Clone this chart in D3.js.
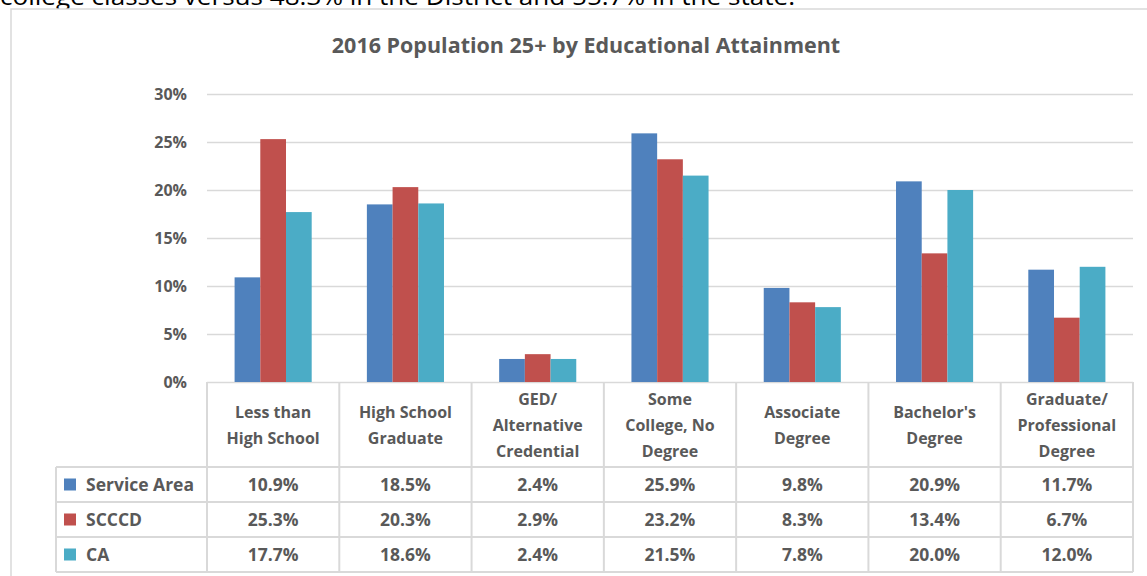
<!DOCTYPE html>
<html>
<head>
<meta charset="utf-8">
<script src="https://cdn.jsdelivr.net/npm/d3@7"></script>
<style>
  body { margin: 0; background: #fff; }
  svg { display: block; font-family: "Open Sans", Lato, sans-serif; }
</style>
</head>
<body>
<div id="chart"></div>
<script>
var categories = [
    ["Less than", "High School"],
    ["High School", "Graduate"],
    ["GED/", "Alternative", "Credential"],
    ["Some", "College, No", "Degree"],
    ["Associate", "Degree"],
    ["Bachelor's", "Degree"],
    ["Graduate/", "Professional", "Degree"]
];
var seriesNames = ["Service Area", "SCCCD", "CA"];
var serviceArea = [10.9, 18.5, 2.4, 25.9, 9.8, 20.9, 11.7];
var scccd = [25.3, 20.3, 2.9, 23.2, 8.3, 13.4, 6.7];
var ca = [17.7, 18.6, 2.4, 21.5, 7.8, 20.0, 12.0];
var colors = ["#4f81bd", "#c0504d", "#4bacc6"];
var yTicks = [0, 5, 10, 15, 20, 25, 30];

(function() {
var series = [serviceArea, scccd, ca];
var W = 1147, H = 576;
var grey = "#595959", line = "#d9d9d9";
var fs = 16, rowFs = 17.5;

var svg = d3.select("#chart").append("svg")
    .attr("width", W)
    .attr("height", H);

// clipped sentence from the surrounding document
svg.append("text")
    .attr("x", 0)
    .attr("y", 5)
    .attr("font-size", 24)
    .attr("textLength", 795)
    .attr("lengthAdjust", "spacingAndGlyphs")
    .attr("fill", "#000")
    .text("college classes versus 48.3% in the District and 55.7% in the state.");

// chart frame
svg.append("rect")
    .attr("x", 11).attr("y", 9)
    .attr("width", 1160).attr("height", 600)
    .attr("fill", "#fff")
    .attr("stroke", line).attr("stroke-width", 1.5);

svg.append("text")
    .attr("x", 586).attr("y", 53)
    .attr("text-anchor", "middle")
    .attr("font-size", 21.5).attr("font-weight", "bold")
    .attr("fill", grey)
    .text("2016 Population 25+ by Educational Attainment");

var plotL = 207, plotR = 1133, plotT = 94, base = 382;

var x = d3.scaleBand()
    .domain(d3.range(categories.length))
    .range([plotL, plotR]);
var y = d3.scaleLinear().domain([0, 30]).range([base, plotT]);
var barW = 25.7;
var xs = d3.scaleBand().domain(d3.range(series.length))
    .range([-barW * 1.5, barW * 1.5]);

// gridlines + y labels via axis
var yAxis = svg.append("g")
    .attr("transform", "translate(" + plotL + ",0)")
    .call(d3.axisLeft(y).tickValues(yTicks)
        .tickSize(-(plotR - plotL))
        .tickFormat(d => d + "%"));
yAxis.select(".domain").remove();
yAxis.selectAll(".tick line").attr("stroke", line).attr("stroke-width", 1.5);
yAxis.selectAll(".tick text")
    .attr("x", -20)
    .attr("font-size", fs).attr("font-weight", "bold")
    .attr("font-family", "'Open Sans', sans-serif")
    .attr("fill", grey);

// bars
series.forEach(function(vals, si) {
    svg.append("g").selectAll("rect")
        .data(vals)
        .enter()
        .append("rect")
        .attr("x", (d, i) => x(i) + x.bandwidth() / 2 + xs(si))
        .attr("y", d => y(d))
        .attr("width", xs.bandwidth())
        .attr("height", d => base - y(d))
        .attr("fill", colors[si]);
});

// data table
var headH = 85, rowH = 35, legendLeft = 56;
var tableLines = svg.append("g")
    .attr("stroke", line).attr("stroke-width", 2).attr("fill", "none");

d3.range(categories.length + 1).forEach(function(i) {
    var xx = i < categories.length ? x(i) : plotR;
    tableLines.append("line")
        .attr("x1", xx).attr("x2", xx)
        .attr("y1", base).attr("y2", base + headH + rowH * 3);
});
tableLines.append("line")
    .attr("x1", legendLeft).attr("x2", legendLeft)
    .attr("y1", base + headH).attr("y2", base + headH + rowH * 3);
d3.range(4).forEach(function(r) {
    var yy = base + headH + r * rowH;
    tableLines.append("line")
        .attr("x1", legendLeft).attr("x2", plotR)
        .attr("y1", yy).attr("y2", yy);
});

// header labels
var lineH = 26;
categories.forEach(function(lines, i) {
    var t = svg.append("text")
        .attr("text-anchor", "middle")
        .attr("font-size", fs).attr("font-weight", "bold")
        .attr("fill", grey);
    var y0 = base + headH / 2 - (lines.length - 1) * lineH / 2 + 6;
    lines.forEach(function(l, k) {
        t.append("tspan")
            .attr("x", x(i) + x.bandwidth() / 2)
            .attr("y", y0 + k * lineH)
            .text(l);
    });
});

// rows
series.forEach(function(vals, si) {
    var cy = base + headH + si * rowH + rowH / 2;
    svg.append("rect")
        .attr("x", 64).attr("y", cy - 6)
        .attr("width", 12).attr("height", 12)
        .attr("fill", colors[si]);
    svg.append("text")
        .attr("x", 86).attr("y", cy + 6)
        .attr("font-size", rowFs).attr("font-weight", "bold")
        .attr("fill", grey)
        .text(seriesNames[si]);
    svg.append("g").selectAll("text")
        .data(vals)
        .enter()
        .append("text")
        .attr("x", (d, i) => x(i) + x.bandwidth() / 2)
        .attr("y", cy + 6)
        .attr("text-anchor", "middle")
        .attr("font-size", rowFs).attr("font-weight", "bold")
        .attr("fill", grey)
        .text(d => d.toFixed(1) + "%");
});
})();
</script>
</body>
</html>
